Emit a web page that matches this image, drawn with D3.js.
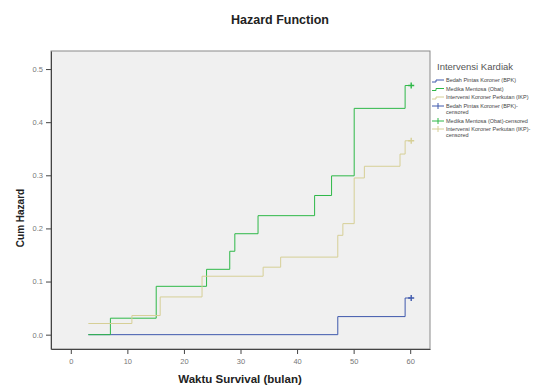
<!DOCTYPE html>
<html>
<head>
<meta charset="utf-8">
<script src="https://cdn.jsdelivr.net/npm/d3@7/dist/d3.min.js"></script>
<style>
  body { margin: 0; background: #fff; }
  svg { display: block; font-family: Arial, "Liberation Sans", sans-serif; }
</style>
</head>
<body>
<svg id="chart" width="551" height="386"></svg>
<script>
// ---- data ----
const groups = ['Bedah Pintas Koroner (BPK)', 'Medika Mentosa (Obat)', 'Intervensi Koroner Perkutan (IKP)'];
const bpkTime = [3.1, 47.2, 59.1, 60];
const bpkHaz  = [0, 0.034, 0.069, 0.069];
const obatTime = [3.1, 7.0, 15.1, 24.0, 28.1, 29.0, 33.1, 43.1, 46.1, 50.1, 59.1, 60];
const obatHaz  = [0, 0.031, 0.091, 0.123, 0.157, 0.19, 0.224, 0.262, 0.299, 0.426, 0.469, 0.469];
const ikpTime = [3.1, 10.8, 15.8, 23.2, 34.0, 37.1, 47.2, 48.1, 50.1, 51.9, 58.2, 59.1, 60];
const ikpHaz  = [0.021, 0.036, 0.071, 0.110, 0.127, 0.146, 0.187, 0.209, 0.295, 0.317, 0.340, 0.365, 0.365];
const censorTime = [60, 60, 60];
const xTicks = [0, 10, 20, 30, 40, 50, 60];
const yTicks = [0.0, 0.1, 0.2, 0.3, 0.4, 0.5];
const legendLabels = [
  ['Bedah Pintas Koroner (BPK)'],
  ['Medika Mentosa (Obat)'],
  ['Intervensi Koroner Perkutan (IKP)'],
  ['Bedah Pintas Koroner (BPK)-', 'censored'],
  ['Medika Mentosa (Obat)-censored'],
  ['Intervensi Koroner Perkutan (IKP)-', 'censored']
];

const colors = ['#3e58ac', '#2eb848', '#d6cf96'];
const series = [
  bpkTime.map((t, i) => ({ t, h: bpkHaz[i] })),
  obatTime.map((t, i) => ({ t, h: obatHaz[i] })),
  ikpTime.map((t, i) => ({ t, h: ikpHaz[i] }))
];

// ---- layout ----
const plot = { left: 51, top: 51, right: 430, bottom: 349 };
const svg = d3.select('#chart');

const x = d3.scaleLinear().domain([-3.5, 63.5]).range([plot.left, plot.right]);
const y = d3.scaleLinear().domain([-0.027, 0.534]).range([plot.bottom, plot.top]);

svg.append('rect')
  .attr('x', plot.left).attr('y', plot.top)
  .attr('width', plot.right - plot.left).attr('height', plot.bottom - plot.top)
  .attr('fill', '#f0f0f0').attr('stroke', '#8a8a8a').attr('stroke-width', 1);

// axes
const xAxis = svg.append('g')
  .attr('transform', `translate(0,${plot.bottom})`)
  .call(d3.axisBottom(x).tickValues(xTicks).tickSize(5).tickSizeOuter(0));
const yAxis = svg.append('g')
  .attr('transform', `translate(${plot.left},0)`)
  .call(d3.axisLeft(y).tickValues(yTicks).tickFormat(d3.format('.1f')).tickSize(5).tickSizeOuter(0));

[xAxis, yAxis].forEach(g => {
  g.select('.domain').attr('stroke', '#444');
  g.selectAll('.tick line').attr('stroke', '#444');
  g.selectAll('.tick text').attr('fill', '#777').style('font-size', '7.5px');
});
xAxis.selectAll('.tick text').attr('dy', '0.9em');

// step lines
const line = d3.line().x(d => x(d.t)).y(d => y(d.h)).curve(d3.curveStepAfter);
series.forEach((s, i) => {
  svg.append('path')
    .datum(s)
    .attr('fill', 'none')
    .attr('stroke', colors[i])
    .attr('stroke-width', 1)
    .attr('d', line);
});

// censored markers
series.forEach((s, i) => {
  const last = s[s.length - 1];
  const cx = x(censorTime[i]) + 1, cy = y(last.h);
  svg.append('path')
    .attr('d', `M${cx - 3},${cy}H${cx + 3}M${cx},${cy - 3}V${cy + 3}`)
    .attr('stroke', colors[i]).attr('stroke-width', 1.4);
});

// titles
svg.append('text')
  .attr('x', 280).attr('y', 24)
  .attr('text-anchor', 'middle')
  .style('font-size', '12.5px').style('font-weight', 'bold')
  .attr('fill', '#222')
  .text('Hazard Function');

svg.append('text')
  .attr('x', 240).attr('y', 383)
  .attr('text-anchor', 'middle')
  .style('font-size', '11.5px').style('font-weight', 'bold')
  .attr('fill', '#222')
  .text('Waktu Survival (bulan)');

svg.append('text')
  .attr('transform', 'translate(24,218) rotate(-90)')
  .attr('text-anchor', 'middle')
  .style('font-size', '10px').style('font-weight', 'bold')
  .attr('fill', '#222')
  .text('Cum Hazard');

// legend
const lg = svg.append('g');
lg.append('text')
  .attr('x', 437).attr('y', 70)
  .style('font-size', '9.5px').attr('fill', '#555')
  .text('Intervensi Kardiak');

const rowY = [80, 88.5, 97, 106, 121, 129];
legendLabels.forEach((lines, i) => {
  const c = colors[i % 3];
  const yy = rowY[i];
  if (i < 3) {
    lg.append('path')
      .attr('d', `M432,${yy + 2}H436V${yy}H444`)
      .attr('fill', 'none').attr('stroke', c).attr('stroke-width', 1);
  } else {
    lg.append('path')
      .attr('d', `M432,${yy}H444M438,${yy - 3}V${yy + 3}`)
      .attr('fill', 'none').attr('stroke', c).attr('stroke-width', 1);
  }
  lines.forEach((t, j) => {
    lg.append('text')
      .attr('x', 446).attr('y', yy + 2 + j * 6)
      .style('font-size', '5.5px').attr('fill', '#444')
      .text(t);
  });
});
</script>
</body>
</html>
